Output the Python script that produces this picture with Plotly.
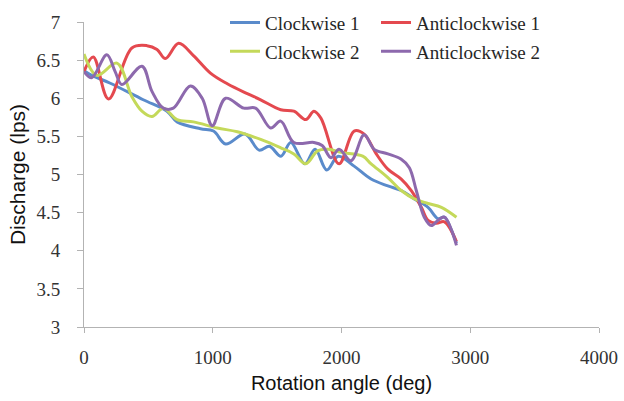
import plotly.graph_objects as go

# Clockwise 1
cw1_x = [0, 60, 200, 460, 645, 723, 905, 1006, 1100, 1250, 1360, 1440, 1530, 1606, 1715, 1795, 1885, 1975, 2098, 2230, 2360, 2464, 2566, 2672, 2750, 2799, 2854, 2893]
cw1_y = [6.36, 6.30, 6.20, 5.98, 5.83, 5.69, 5.60, 5.57, 5.40, 5.53, 5.32, 5.37, 5.24, 5.42, 5.14, 5.33, 5.06, 5.24, 5.11, 4.94, 4.85, 4.79, 4.68, 4.57, 4.42, 4.44, 4.27, 4.10]

# Anticlockwise 1
acw1_x = [0, 72, 190, 372, 489, 567, 632, 735, 850, 982, 1113, 1268, 1372, 1528, 1630, 1723, 1786, 1840, 1981, 2098, 2176, 2270, 2360, 2464, 2542, 2620, 2672, 2737, 2799, 2893]
acw1_y = [6.35, 6.54, 5.99, 6.66, 6.69, 6.64, 6.52, 6.72, 6.56, 6.33, 6.19, 6.06, 5.98, 5.85, 5.83, 5.72, 5.83, 5.74, 5.14, 5.57, 5.53, 5.27, 5.07, 4.94, 4.79, 4.57, 4.40, 4.36, 4.38, 4.12]

# Clockwise 2
cw2_x = [0, 100, 255, 372, 450, 528, 616, 723, 850, 1035, 1191, 1372, 1528, 1630, 1723, 1814, 1900, 1996, 2165, 2230, 2360, 2464, 2566, 2672, 2776, 2893]
cw2_y = [6.58, 6.30, 6.46, 6.02, 5.83, 5.76, 5.87, 5.72, 5.69, 5.61, 5.56, 5.46, 5.35, 5.27, 5.14, 5.31, 5.33, 5.29, 5.24, 5.14, 4.96, 4.79, 4.68, 4.62, 4.57, 4.44]

# Anticlockwise 2
acw2_x = [0, 60, 177, 242, 294, 450, 528, 616, 694, 826, 918, 996, 1100, 1241, 1333, 1450, 1528, 1630, 1786, 1850, 1918, 1981, 2074, 2176, 2254, 2360, 2464, 2527, 2581, 2643, 2698, 2750, 2799, 2893]
acw2_y = [6.35, 6.27, 6.57, 6.35, 6.18, 6.42, 6.09, 5.87, 5.87, 6.16, 6.00, 5.64, 6.00, 5.87, 5.87, 5.61, 5.70, 5.42, 5.42, 5.38, 5.22, 5.33, 5.18, 5.52, 5.33, 5.27, 5.20, 5.09, 4.79, 4.44, 4.33, 4.40, 4.44, 4.07]

x_ticks = [0, 1000, 2000, 3000, 4000]
y_ticks = [3, 3.5, 4, 4.5, 5, 5.5, 6, 6.5, 7]

fig = go.Figure()
lw = 3
fig.add_trace(go.Scatter(x=cw1_x, y=cw1_y, name="Clockwise 1", mode="lines", legendgroup="a",
                         line=dict(color="#5a8bcb", width=lw, shape="spline"), legend="legend"))
fig.add_trace(go.Scatter(x=acw1_x, y=acw1_y, name="Anticlockwise 1", mode="lines", legendgroup="c",
                         line=dict(color="#e4494f", width=lw, shape="spline"), legend="legend2"))
fig.add_trace(go.Scatter(x=cw2_x, y=cw2_y, name="Clockwise 2", mode="lines", legendgroup="b",
                         line=dict(color="#c4d95a", width=lw, shape="spline"), legend="legend"))
fig.add_trace(go.Scatter(x=acw2_x, y=acw2_y, name="Anticlockwise 2", mode="lines", legendgroup="d",
                         line=dict(color="#8d69ad", width=lw, shape="spline"), legend="legend2"))

axis_col = "#b3b3b3"
tick_font = dict(family="Liberation Serif", size=19, color="#333333")
leg_font = dict(family="Liberation Serif", size=19, color="#262626")
fig.update_layout(
    width=624, height=401,
    margin=dict(l=84, r=25, t=22, b=74, autoexpand=False),
    paper_bgcolor="white", plot_bgcolor="white",
    xaxis=dict(range=[0, 4000], tickvals=x_ticks, ticktext=[str(v) for v in x_ticks],
               showgrid=False, zeroline=False, showline=True, linecolor=axis_col, linewidth=1,
               ticks="outside", ticklen=5, tickcolor=axis_col, tickfont=tick_font, ticklabelstandoff=8,
               title=dict(text="Rotation angle (deg)", font=dict(family="Liberation Sans", size=20, color="#111"), standoff=9)),
    yaxis=dict(range=[3, 7], tickvals=y_ticks, ticktext=[("%g" % v) for v in y_ticks],
               showgrid=False, zeroline=False, showline=True, linecolor=axis_col, linewidth=1,
               ticks="outside", ticklen=6, tickcolor=axis_col, tickfont=tick_font, ticklabelstandoff=13,
               title=dict(text="Discharge (lps)", font=dict(family="Liberation Sans", size=21, color="#111"), standoff=5)),
    legend=dict(x=(225 - 84) / 515, y=1.06, xanchor="left", yanchor="top",
                font=leg_font, bgcolor="rgba(0,0,0,0)",
                traceorder="grouped", itemwidth=30, tracegroupgap=1),
    legend2=dict(x=(376 - 84) / 515, y=1.06, xanchor="left", yanchor="top",
                 font=leg_font, bgcolor="rgba(0,0,0,0)",
                 traceorder="grouped", itemwidth=30, tracegroupgap=1),
    showlegend=True,
)

fig.write_html("out.html", config={"displayModeBar": False},
               post_script="document.body.style.margin='0px';")
